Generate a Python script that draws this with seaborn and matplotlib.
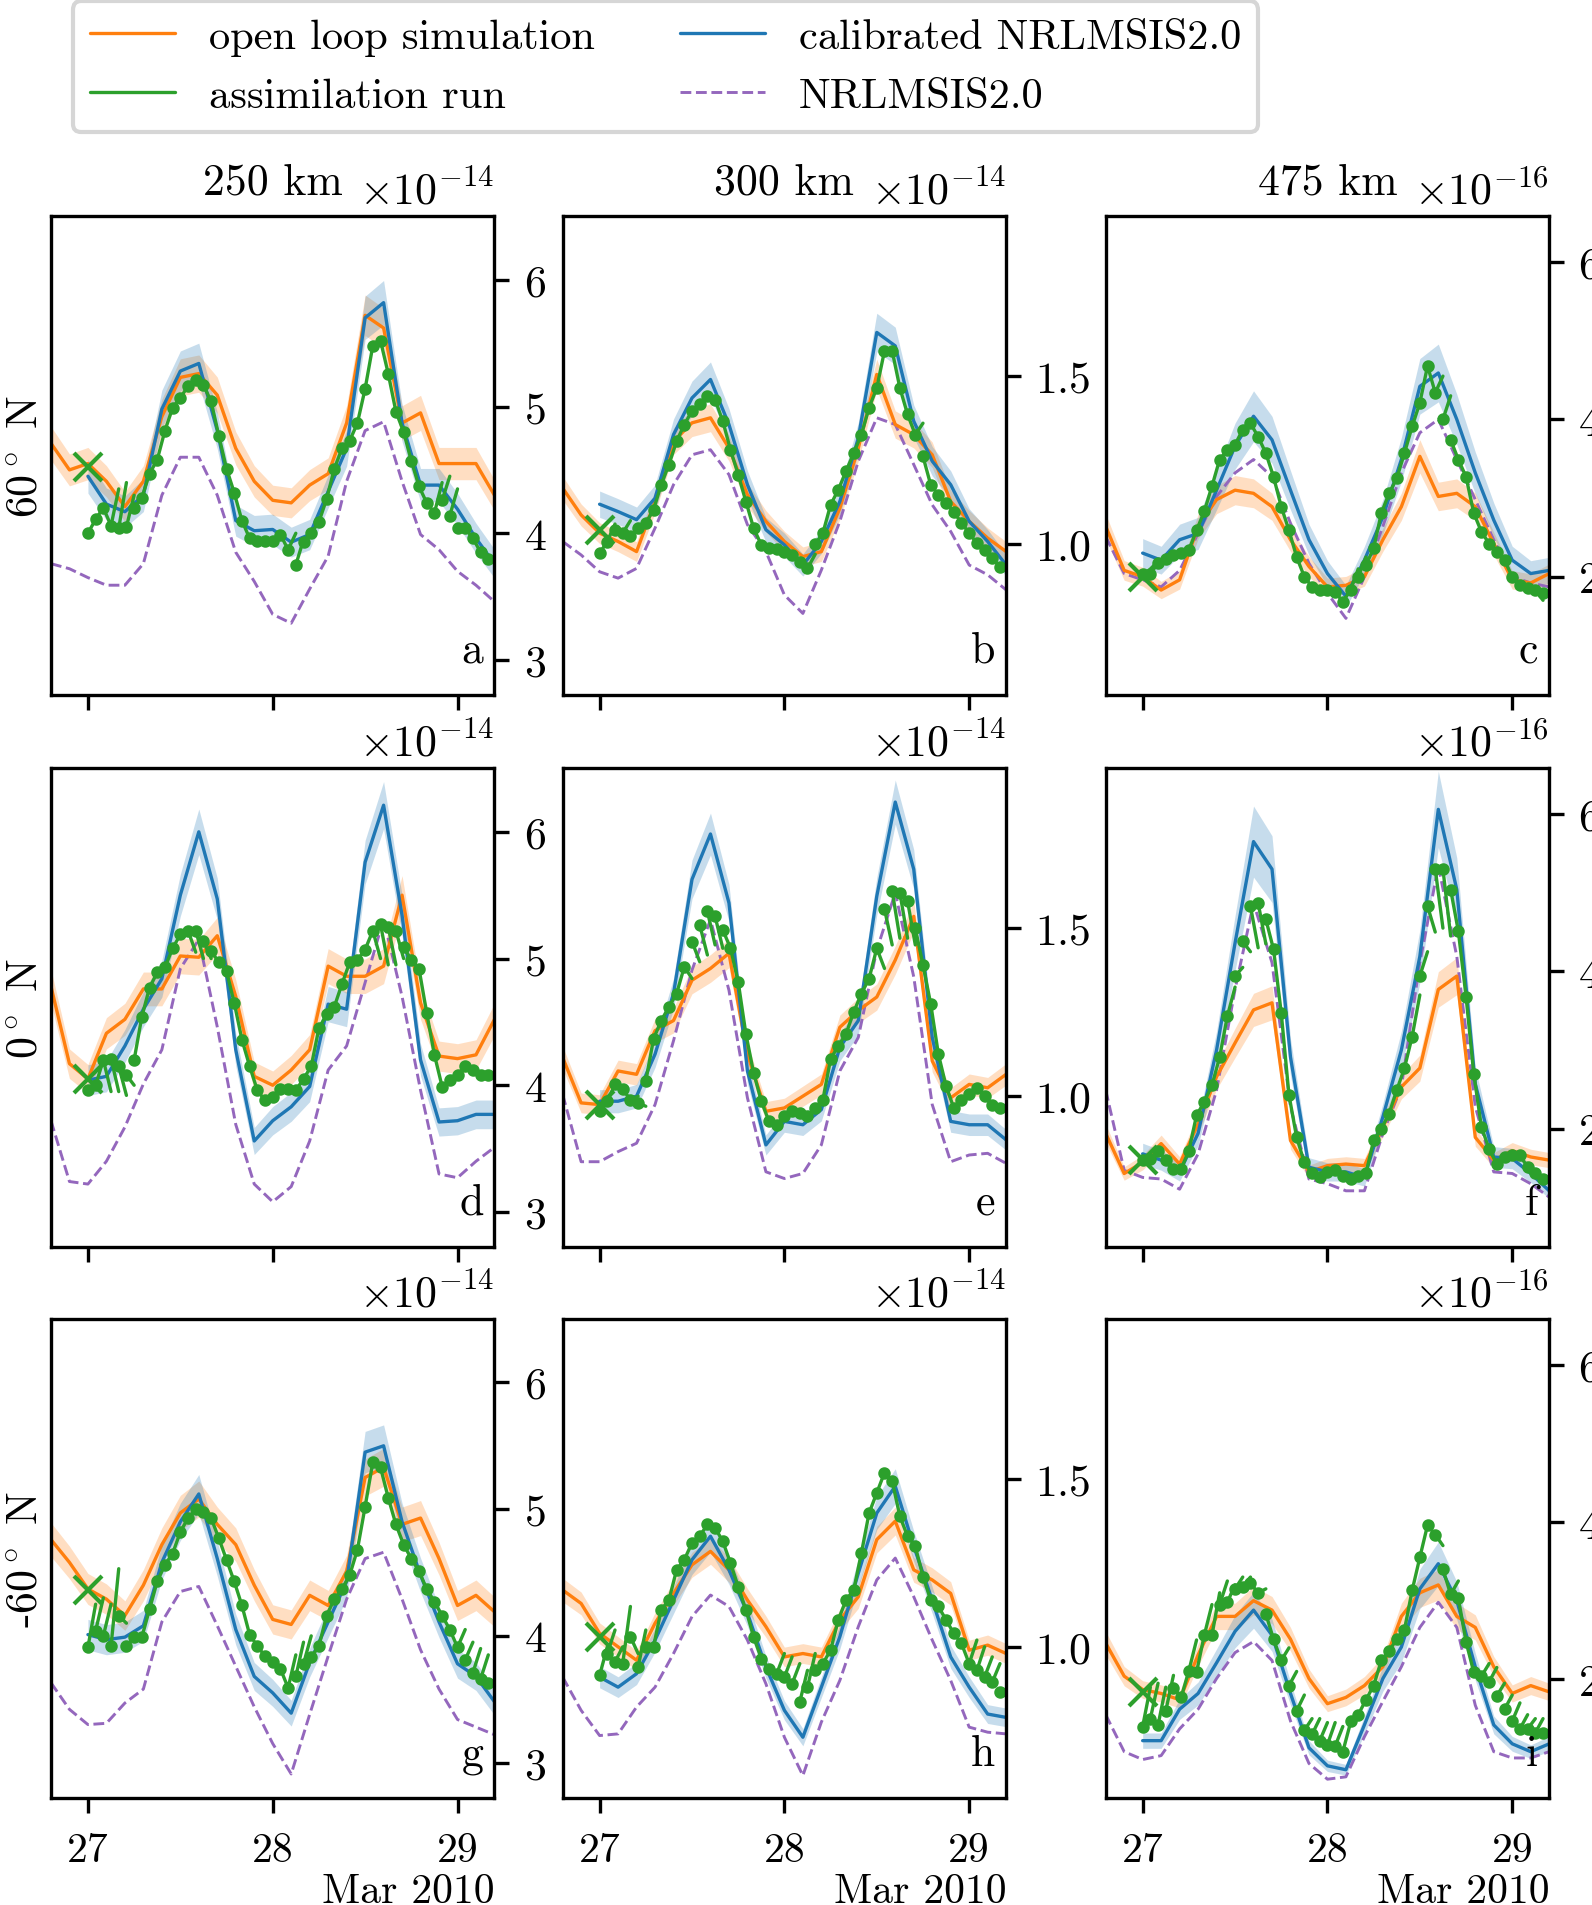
import numpy as np
import pandas as pd
import matplotlib
matplotlib.use("Agg")
import matplotlib.pyplot as plt
import matplotlib.dates as mdates
import matplotlib.ticker as mticker
from matplotlib.lines import Line2D
import seaborn as sns

# ======================================
# Data (values in units of the axis multiplier)
# ======================================

# model output every 0.1 day from 26.8 to 29.2 March 2010
t_model = pd.date_range("2010-03-26 19:12", periods=25, freq="144min")
# calibrated model every 0.1 day from 27.0
t_calib = pd.date_range("2010-03-27 00:00", periods=23, freq="144min")
# hourly analyses of the assimilation run from 27.0
t_assim = pd.date_range("2010-03-27 00:00", periods=53, freq="h")

panel_letters = ["a", "b", "c", "d", "e", "f", "g", "h", "i"]
heights = ["250 km", "300 km", "475 km"]
latitudes = ["$60^\\circ$ N", "$0^\\circ$ N", "-$60^\\circ$ N"]
month_label = "Mar 2010"
col_scale = [1e-14, 1e-14, 1e-16]
col_ylim = [(2.72, 6.5), (0.55, 1.975), (0.49, 6.58)]
col_ystep = [1.0, 0.5, 2.0]
open_spread = [0.028, 0.03, 0.06]
calib_spread = [0.03, 0.035, 0.08]

# open loop simulation (orange)
open_a = [4.71, 4.50, 4.55, 4.41, 4.21, 4.41, 4.92, 5.23, 5.26, 5.09, 4.67, 4.41, 4.26,
          4.24, 4.38, 4.47, 4.87, 5.72, 5.62, 4.87, 4.95, 4.55, 4.55, 4.55, 4.30]
open_b = [1.167, 1.087, 1.033, 1.008, 0.978, 1.127, 1.306, 1.361, 1.376, 1.286, 1.147, 1.068, 1.008,
          0.963, 0.978, 1.107, 1.286, 1.505, 1.356, 1.326, 1.266, 1.127, 1.068, 1.018, 0.978]
open_c = [2.64, 2.08, 2.0, 1.83, 1.96, 2.64, 2.98, 3.10, 3.06, 2.89, 2.47, 2.13, 1.87,
          1.89, 2.0, 2.47, 2.89, 3.53, 3.02, 3.06, 2.89, 2.42, 1.96, 1.92, 2.04]
open_d = [4.78, 4.17, 4.05, 4.41, 4.52, 4.76, 4.76, 5.02, 5.01, 5.18, 4.70, 4.07, 4.0,
          4.12, 4.28, 4.94, 4.86, 4.86, 4.94, 5.50, 4.65, 4.23, 4.21, 4.24, 4.52]
open_e = [1.115, 0.98, 0.975, 1.075, 1.065, 1.195, 1.225, 1.345, 1.38, 1.425, 1.125, 0.955, 0.965,
          1.0, 1.035, 1.205, 1.255, 1.295, 1.405, 1.535, 1.105, 0.995, 1.035, 1.025, 1.065]
open_f = [1.94, 1.43, 1.57, 1.81, 1.55, 2.06, 2.66, 3.09, 3.51, 3.6, 1.85, 1.45, 1.53,
          1.55, 1.53, 2.02, 2.53, 2.77, 3.77, 3.94, 1.89, 1.60, 1.72, 1.64, 1.60]
open_g = [4.76, 4.58, 4.37, 4.29, 4.16, 4.40, 4.72, 4.97, 5.08, 4.88, 4.72, 4.40, 4.13,
          4.09, 4.32, 4.24, 4.51, 5.25, 5.33, 4.88, 4.93, 4.61, 4.24, 4.32, 4.19]
open_h = [1.169, 1.129, 1.04, 1.0, 0.96, 1.07, 1.159, 1.244, 1.284, 1.229, 1.139, 1.06, 0.97,
          0.98, 0.97, 1.08, 1.149, 1.319, 1.374, 1.229, 1.199, 1.159, 0.99, 1.005, 0.98]
open_i = [2.46, 2.04, 1.87, 1.82, 1.74, 2.31, 2.80, 2.80, 3.0, 2.88, 2.51, 2.01, 1.69,
          1.77, 1.92, 2.16, 2.80, 3.10, 3.20, 2.80, 2.66, 2.16, 1.82, 1.92, 1.84]

# calibrated NRLMSIS2.0 (blue), from 27.0
calib_a = [4.45, 4.23, 4.17, 4.30, 4.98, 5.28, 5.34, 4.81, 4.10, 4.02, 4.03, 3.93,
           3.99, 4.33, 4.67, 5.70, 5.82, 4.87, 4.38, 4.38, 4.19, 3.96, 3.76]
calib_b = [1.119, 1.097, 1.073, 1.137, 1.326, 1.435, 1.49, 1.356, 1.177, 1.043, 0.998, 0.938,
           1.008, 1.127, 1.316, 1.63, 1.59, 1.366, 1.247, 1.177, 1.068, 1.008, 0.938]
calib_c = [2.30, 2.21, 2.47, 2.55, 3.10, 3.66, 4.04, 3.74, 3.10, 2.47, 2.04, 1.75,
           2.21, 2.76, 3.49, 4.42, 4.59, 4.0, 3.32, 2.72, 2.21, 2.04, 2.08]
calib_d = [4.04, 4.07, 4.31, 4.60, 4.84, 5.50, 6.0, 5.47, 4.28, 3.56, 3.72, 3.83,
           3.99, 4.64, 4.60, 5.76, 6.21, 5.34, 4.20, 3.71, 3.72, 3.77, 3.77]
calib_e = [0.985, 0.985, 1.0, 1.125, 1.305, 1.645, 1.78, 1.575, 1.075, 0.855, 0.925, 0.915,
           0.96, 1.145, 1.225, 1.595, 1.875, 1.675, 1.175, 0.925, 0.915, 0.915, 0.87]
calib_f = [1.68, 1.60, 1.45, 1.94, 3.0, 4.36, 5.65, 5.30, 2.91, 1.51, 1.45, 1.45,
           1.38, 2.15, 3.0, 4.19, 6.06, 5.04, 2.57, 1.64, 1.62, 1.43, 1.21]
calib_g = [4.01, 3.97, 3.99, 4.08, 4.58, 4.90, 5.12, 4.61, 4.05, 3.68, 3.55, 3.39,
           3.79, 4.11, 4.43, 5.45, 5.5, 4.90, 4.48, 4.11, 3.78, 3.68, 3.48]
calib_h = [0.91, 0.88, 0.92, 1.02, 1.139, 1.259, 1.329, 1.229, 1.10, 0.94, 0.811, 0.731,
           0.88, 1.03, 1.219, 1.398, 1.478, 1.299, 1.139, 0.97, 0.88, 0.80, 0.79]
calib_i = [1.22, 1.22, 1.62, 1.82, 2.21, 2.61, 2.88, 2.56, 1.82, 1.13, 0.90, 0.85,
           1.42, 2.01, 2.41, 3.15, 3.47, 3.0, 2.16, 1.42, 1.18, 1.08, 1.18]

# NRLMSIS2.0 (purple dashed)
msis_a = [3.76, 3.72, 3.65, 3.59, 3.59, 3.76, 4.30, 4.60, 4.60, 4.30, 3.85, 3.62, 3.36,
          3.29, 3.56, 3.82, 4.41, 4.81, 4.88, 4.41, 3.99, 3.87, 3.70, 3.59, 3.46]
msis_b = [1.008, 0.968, 0.918, 0.899, 0.928, 1.048, 1.177, 1.266, 1.281, 1.207, 1.058, 0.978, 0.849,
          0.794, 0.923, 1.068, 1.247, 1.376, 1.356, 1.237, 1.117, 1.038, 0.938, 0.909, 0.864]
msis_c = [2.51, 2.04, 1.96, 1.87, 2.08, 2.55, 3.02, 3.32, 3.49, 3.27, 2.68, 2.17, 1.79,
          1.47, 2.0, 2.64, 3.32, 3.83, 4.0, 3.49, 2.98, 2.47, 2.0, 1.92, 1.87]
msis_d = [3.72, 3.24, 3.22, 3.40, 3.67, 4.01, 4.28, 4.92, 5.15, 4.46, 3.69, 3.22, 3.08,
          3.20, 3.56, 4.12, 4.31, 4.81, 5.31, 4.70, 3.96, 3.30, 3.27, 3.40, 3.51]
msis_e = [1.005, 0.805, 0.805, 0.835, 0.86, 0.975, 1.165, 1.375, 1.525, 1.315, 0.995, 0.775, 0.755,
          0.77, 0.855, 1.075, 1.175, 1.435, 1.605, 1.355, 0.975, 0.805, 0.825, 0.83, 0.80]
msis_f = [2.49, 1.47, 1.38, 1.36, 1.23, 1.68, 2.49, 3.77, 4.87, 4.11, 2.28, 1.36, 1.30,
          1.21, 1.21, 1.94, 2.53, 4.11, 5.34, 4.19, 2.28, 1.45, 1.43, 1.30, 1.13]
msis_g = [3.63, 3.42, 3.30, 3.31, 3.47, 3.58, 4.11, 4.35, 4.39, 4.08, 3.76, 3.44, 3.15,
          2.91, 3.38, 3.84, 4.29, 4.61, 4.66, 4.29, 3.89, 3.58, 3.34, 3.28, 3.22]
msis_h = [0.91, 0.811, 0.736, 0.741, 0.821, 0.88, 0.98, 1.09, 1.154, 1.12, 1.02, 0.89, 0.731,
          0.617, 0.776, 0.90, 1.06, 1.199, 1.264, 1.149, 1.02, 0.90, 0.761, 0.746, 0.741]
msis_i = [1.55, 1.08, 0.98, 1.03, 1.37, 1.62, 2.01, 2.34, 2.48, 2.24, 1.47, 0.93, 0.73,
          0.76, 1.27, 1.72, 2.16, 2.66, 2.98, 2.66, 1.67, 1.08, 1.0, 1.0, 1.08]

# assimilation run: hourly analysis values (dots)
assim_a = [4.00, 4.11, 4.20, 4.06, 4.04, 4.05, 4.20, 4.28, 4.47, 4.58, 4.81, 4.99, 5.07, 5.16,
           5.21, 5.17, 5.04, 4.77, 4.51, 4.32, 4.10, 3.96, 3.94, 3.94, 3.94, 3.99, 3.87, 3.75,
           3.93, 4.00, 4.09, 4.27, 4.51, 4.67, 4.73, 4.87, 5.14, 5.48, 5.52, 5.26, 4.96, 4.80,
           4.57, 4.37, 4.24, 4.16, 4.26, 4.14, 4.04, 4.04, 3.96, 3.85, 3.80]
assim_b = [0.973, 1.008, 1.043, 1.033, 1.023, 1.048, 1.063, 1.102, 1.177, 1.237, 1.306, 1.356,
           1.396, 1.416, 1.440, 1.430, 1.366, 1.281, 1.207, 1.127, 1.048, 0.998, 0.988, 0.986,
           0.978, 0.968, 0.948, 0.928, 1.0, 1.033, 1.117, 1.162, 1.217, 1.271, 1.326, 1.406,
           1.465, 1.575, 1.575, 1.465, 1.386, 1.326, 1.261, 1.177, 1.147, 1.122, 1.097, 1.063,
           1.033, 1.003, 0.983, 0.958, 0.933]
assim_c = [2.04, 2.04, 2.17, 2.23, 2.28, 2.30, 2.34, 2.59, 2.83, 3.15, 3.49, 3.61, 3.68, 3.87,
           3.95, 3.78, 3.57, 3.27, 2.89, 2.59, 2.25, 2.0, 1.87, 1.83, 1.83, 1.81, 1.68, 1.83,
           2.0, 2.15, 2.36, 2.81, 3.06, 3.25, 3.57, 3.91, 4.21, 4.68, 4.34, 4.0, 3.74, 3.49,
           3.27, 2.81, 2.57, 2.42, 2.32, 2.21, 2.0, 1.89, 1.85, 1.83, 1.79]
assim_d = [3.96, 4.00, 4.20, 4.21, 4.15, 4.08, 4.20, 4.54, 4.77, 4.89, 4.93, 5.08, 5.19, 5.22,
           5.22, 5.14, 5.06, 4.97, 4.90, 4.65, 4.36, 4.15, 3.96, 3.88, 3.91, 3.97, 3.97, 3.96,
           4.05, 4.15, 4.45, 4.56, 4.62, 4.80, 4.97, 4.99, 5.07, 5.22, 5.27, 5.25, 5.22, 5.09,
           4.99, 4.92, 4.57, 4.24, 3.99, 4.04, 4.08, 4.15, 4.12, 4.08, 4.08]
assim_e = [0.955, 0.985, 1.035, 1.02, 0.99, 0.98, 1.045, 1.17, 1.225, 1.265, 1.305, 1.385,
           1.46, 1.51, 1.55, 1.535, 1.495, 1.44, 1.34, 1.185, 1.07, 0.985, 0.925, 0.915, 0.94,
           0.955, 0.95, 0.94, 0.965, 0.99, 1.11, 1.15, 1.185, 1.25, 1.305, 1.35, 1.44, 1.557,
           1.61, 1.605, 1.58, 1.50, 1.39, 1.275, 1.125, 1.03, 0.965, 0.99, 1.005, 1.025, 1.0,
           0.975, 0.965]
assim_f = [1.60, 1.62, 1.72, 1.60, 1.49, 1.49, 1.72, 2.17, 2.34, 2.55, 2.91, 3.43, 3.94, 4.38,
           4.83, 4.87, 4.66, 4.28, 3.47, 2.43, 1.89, 1.57, 1.43, 1.38, 1.45, 1.47, 1.40, 1.36,
           1.40, 1.43, 1.85, 2.0, 2.19, 2.49, 2.77, 3.17, 3.94, 4.83, 5.30, 5.30, 5.04, 4.51,
           3.68, 2.70, 2.02, 1.74, 1.55, 1.64, 1.66, 1.66, 1.51, 1.43, 1.36]
assim_g = [3.91, 4.04, 4.0, 3.92, 4.16, 3.92, 3.99, 3.99, 4.21, 4.43, 4.56, 4.65, 4.82, 4.93,
           5.0, 4.98, 4.93, 4.77, 4.60, 4.43, 4.24, 4.01, 3.92, 3.84, 3.79, 3.74, 3.59, 3.68,
           3.78, 3.83, 3.92, 4.16, 4.29, 4.37, 4.48, 4.68, 5.02, 5.37, 5.33, 5.09, 4.88, 4.72,
           4.61, 4.51, 4.37, 4.27, 4.16, 4.05, 3.91, 3.81, 3.71, 3.66, 3.63]
assim_h = [0.915, 0.98, 0.955, 0.95, 1.03, 0.94, 1.0, 1.0, 1.11, 1.139, 1.229, 1.259, 1.309,
           1.329, 1.364, 1.354, 1.314, 1.249, 1.179, 1.11, 1.03, 0.965, 0.935, 0.92, 0.91, 0.89,
           0.836, 0.88, 0.93, 0.95, 0.99, 1.08, 1.139, 1.169, 1.279, 1.398, 1.458, 1.518, 1.493,
           1.388, 1.329, 1.299, 1.209, 1.139, 1.12, 1.08, 1.04, 1.01, 0.95, 0.93, 0.91, 0.895,
           0.866]
assim_i = [1.40, 1.50, 1.42, 1.60, 1.89, 1.77, 2.11, 2.09, 2.56, 2.56, 2.95, 2.98, 3.15, 3.18,
           3.22, 3.10, 2.83, 2.51, 2.24, 1.92, 1.60, 1.35, 1.30, 1.22, 1.17, 1.15, 1.08, 1.47,
           1.55, 1.74, 1.92, 2.24, 2.36, 2.51, 2.63, 3.13, 3.55, 3.96, 3.84, 3.40, 3.08, 3.03,
           2.48, 2.09, 2.04, 1.97, 1.79, 1.62, 1.47, 1.37, 1.37, 1.32, 1.32]

# forecast value reached one hour after analysis k, where it visibly differs from the next analysis
hooks_a = [(3, 4.35), (4, 4.4), (5, 4.3), (26, 4.0), (27, 3.95), (45, 4.4), (46, 4.45), (47, 4.35)]
hooks_b = [(1, 1.06), (3, 1.07), (27, 0.97), (41, 1.36)]
hooks_c = [(27, 2.1), (28, 2.25), (38, 4.55), (39, 4.3), (51, 1.7)]
hooks_d = [(2, 3.95), (3, 3.95), (4, 3.92), (5, 4.0), (13, 5.05), (14, 5.0), (15, 5.0),
           (37, 5.0), (38, 4.95), (39, 4.95), (40, 5.0)]
hooks_e = [(4, 1.0), (5, 0.97), (11, 1.35), (12, 1.40), (13, 1.42), (14, 1.45), (15, 1.44),
           (36, 1.38), (37, 1.45), (38, 1.47), (39, 1.47), (40, 1.45)]
hooks_f = [(11, 3.8), (12, 4.05), (13, 4.25), (14, 4.3), (15, 4.35), (35, 3.7), (36, 4.25),
           (37, 4.5), (38, 4.55), (39, 4.45)]
hooks_g = [(0, 4.25), (1, 4.3), (2, 4.25), (3, 4.53), (4, 4.1), (26, 3.85), (27, 3.95), (28, 4.0),
           (48, 4.05), (49, 3.95), (50, 3.9), (51, 3.85)]
hooks_h = [(0, 1.0), (1, 1.05), (2, 1.0), (3, 1.12), (4, 0.98), (5, 1.05), (23, 0.98), (24, 0.97),
           (25, 0.95), (26, 0.93), (27, 0.98), (48, 1.02), (49, 1.0), (50, 0.97), (51, 0.95)]
hooks_i = [(0, 1.9), (1, 1.95), (2, 1.9), (3, 2.05), (6, 2.5), (8, 2.95), (9, 3.1), (10, 3.25),
           (11, 3.2), (12, 3.3), (13, 3.3), (15, 3.15), (18, 2.4), (19, 2.1), (20, 1.8), (21, 1.5),
           (22, 1.5), (23, 1.45), (24, 1.45), (25, 1.4), (26, 1.45), (38, 3.7), (40, 3.25),
           (44, 2.2), (45, 2.15), (46, 1.95), (47, 1.8), (48, 1.7), (49, 1.55), (50, 1.5), (51, 1.5)]

# starting value of the assimilation run (cross marker at 27.0)
start_cross = [4.52, 1.043, 2.0, 4.05, 0.975, 1.6, 4.36, 1.03, 1.84]

open_all = [open_a, open_b, open_c, open_d, open_e, open_f, open_g, open_h, open_i]
calib_all = [calib_a, calib_b, calib_c, calib_d, calib_e, calib_f, calib_g, calib_h, calib_i]
msis_all = [msis_a, msis_b, msis_c, msis_d, msis_e, msis_f, msis_g, msis_h, msis_i]
assim_all = [assim_a, assim_b, assim_c, assim_d, assim_e, assim_f, assim_g, assim_h, assim_i]
hooks_all = [hooks_a, hooks_b, hooks_c, hooks_d, hooks_e, hooks_f, hooks_g, hooks_h, hooks_i]

# ======================================
# Style
# ======================================

sns.set_style("ticks")
plt.rcParams.update({
    "font.family": "serif",
    "font.serif": ["cmr10"],
    "mathtext.fontset": "cm",
    "axes.formatter.use_mathtext": True,
    "font.size": 10.5,
    "axes.edgecolor": "black",
    "axes.labelcolor": "black",
    "text.color": "black",
    "xtick.color": "black",
    "ytick.color": "black",
    "axes.linewidth": 0.8,
    "xtick.major.size": 3.5,
    "ytick.major.size": 3.5,
    "xtick.major.width": 0.8,
    "ytick.major.width": 0.8,
    "xtick.major.pad": 4.5,
    "xtick.labelsize": 10,
})

c_open, c_assim, c_calib, c_msis = "tab:orange", "tab:green", "tab:blue", "tab:purple"

# ======================================
# Figure
# ======================================

fig, axes = plt.subplots(3, 3, figsize=(15.93 / 3, 19.06 / 3), sharex=True)

x_model = mdates.date2num(t_model)
x_calib = mdates.date2num(t_calib)
x_assim = mdates.date2num(t_assim)

col_left = [0.0320, 0.3532, 0.6941]
row_bottom = [0.6346, 0.3450, 0.0561]
ax_w, ax_h = 0.2784, 0.2513

for idx, letter in enumerate(panel_letters):
    row, col = divmod(idx, 3)
    ax = axes[row, col]
    ax.set_position([col_left[col], row_bottom[row], ax_w, ax_h])
    s = col_scale[col]

    ol = np.array(open_all[idx]) * s
    cb = np.array(calib_all[idx]) * s
    ms = np.array(msis_all[idx]) * s
    an = np.array(assim_all[idx]) * s

    # uncertainty bands
    ax.fill_between(x_model, ol * (1 - open_spread[col]), ol * (1 + open_spread[col]),
                    color=c_open, alpha=0.25, lw=0)
    ax.fill_between(x_calib, cb * (1 - calib_spread[col]), cb * (1 + calib_spread[col]),
                    color=c_calib, alpha=0.25, lw=0)

    sns.lineplot(x=x_model, y=ms, ax=ax, color=c_msis, lw=0.7, linestyle="--")
    sns.lineplot(x=x_model, y=ol, ax=ax, color=c_open, lw=0.8)
    sns.lineplot(x=x_calib, y=cb, ax=ax, color=c_calib, lw=0.8)

    # assimilation: analysis dots, each followed by a one-hour forecast segment
    seg_end = an[1:].copy()
    for k, v in hooks_all[idx]:
        seg_end[k] = v * s
    nan = np.full(len(seg_end), np.nan)
    seg_x = np.column_stack([x_assim[:-1], x_assim[1:], nan]).ravel()
    seg_y = np.column_stack([an[:-1], seg_end, nan]).ravel()
    ax.plot(seg_x, seg_y, color=c_assim, lw=0.8)
    ax.plot(x_assim, an, "o", color=c_assim, ms=2.0)
    ax.plot(x_assim[0], start_cross[idx] * s, "x", color=c_assim, ms=6.5, mew=1.0)

    ax.set_xlabel("")
    ax.set_ylim(col_ylim[col][0] * s, col_ylim[col][1] * s)
    ax.yaxis.set_major_locator(mticker.MultipleLocator(col_ystep[col] * s))
    ax.yaxis.tick_right()
    ax.text(0.975, 0.07, letter, transform=ax.transAxes, ha="right", va="baseline")

    if row == 0:
        ax.annotate(heights[col], xy=(0.5, 1.0), xycoords="axes fraction", xytext=(0, 5.5),
                    textcoords="offset points", ha="center", va="baseline")
    if row == 2:
        ax.text(1.0, -0.156, month_label, transform=ax.transAxes, ha="right", va="top",
                fontsize=10)
    if col == 0:
        ax.set_ylabel(latitudes[row], labelpad=1)
    else:
        ax.set_ylabel("")

locator = mdates.DayLocator()
formatter = mdates.ConciseDateFormatter(locator, show_offset=False)
axes[0, 0].xaxis.set_major_locator(locator)
axes[0, 0].xaxis.set_major_formatter(formatter)
axes[0, 0].set_xlim(mdates.date2num(pd.Timestamp("2010-03-26 19:12")),
                    mdates.date2num(pd.Timestamp("2010-03-29 04:48")))

handles = [
    Line2D([], [], color=c_open, lw=0.8),
    Line2D([], [], color=c_assim, lw=0.8),
    Line2D([], [], color=c_calib, lw=0.8),
    Line2D([], [], color=c_msis, lw=0.7, linestyle="--"),
]
labels = ["open loop simulation", "assimilation run", "calibrated NRLMSIS2.0", "NRLMSIS2.0"]
fig.legend(handles, labels, loc="upper left", bbox_to_anchor=(0.0458, 0.9987), borderaxespad=0,
           ncol=2, frameon=True, edgecolor="0.8", fontsize=10.2, handlelength=2.0, columnspacing=2.0)

fig.savefig("out.png", dpi=300)
